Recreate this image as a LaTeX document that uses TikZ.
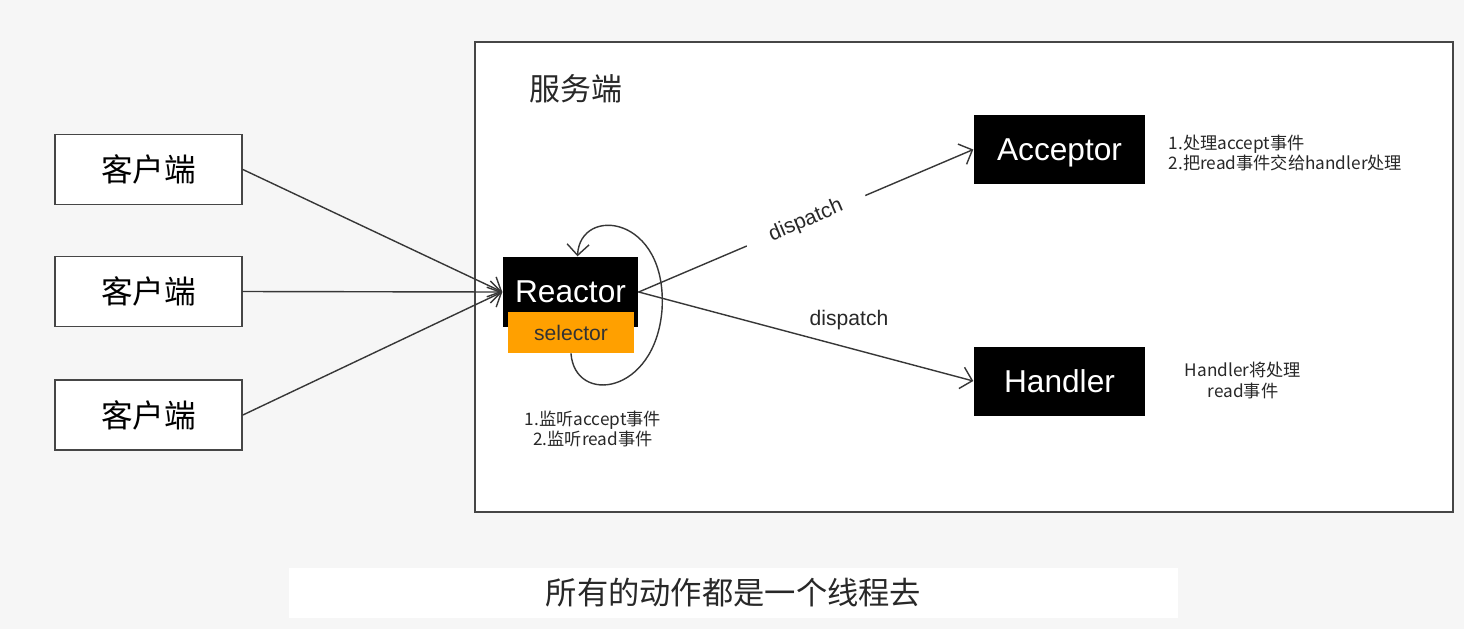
\documentclass[tikz,border=0pt]{standalone}
\usepackage{fontspec}
\setmainfont{Liberation Sans}
\newfontfamily\cjk{Noto Sans CJK SC}
\usetikzlibrary{arrows.meta,positioning}
\definecolor{slidegray}{RGB}{246,246,246}
\definecolor{framegray}{RGB}{70,70,70}
\definecolor{wiregray}{RGB}{55,55,55}
\definecolor{selectororange}{RGB}{255,160,0}
\definecolor{notegray}{RGB}{40,40,40}

\begin{document}
\begin{tikzpicture}[>={Straight Barb[length=1.1mm,width=2.2mm]},line cap=round,
 clientbox/.style={draw=framegray,fill=white,line width=.5pt,minimum width=1.87cm,minimum height=.70cm,inner sep=0pt,font=\cjk\fontsize{9}{11}\selectfont},
 corebox/.style={fill=black,text=white,inner sep=0pt,text depth=0pt,font=\fontsize{9}{11}\selectfont},
 note/.style={font=\cjk\fontsize{4.9}{5.8}\selectfont,text=notegray,inner sep=0pt},
 wire/.style={->,wiregray,line width=.4pt},
 wirelabel/.style={font=\fontsize{6}{7}\selectfont,text=notegray,inner sep=0pt}]
\useasboundingbox[fill=slidegray] (0,0) rectangle (14.64,-6.29);
% server frame
\node[draw=framegray,fill=white,line width=.5pt,minimum width=9.78cm,minimum height=4.70cm,inner sep=0pt] (server) at (9.64,-2.77) {};
\node[font=\cjk\fontsize{8.8}{10}\selectfont,text=notegray] (servertitle) at (5.76,-0.89) {服务端};
% clients
\node[clientbox] (c1) at (1.485,-1.695) {客户端};
\node[clientbox] (c2) at (1.485,-2.915) {客户端};
\node[clientbox] (c3) at (1.485,-4.15) {客户端};
% reactor and workers
\node[corebox,minimum width=1.35cm,minimum height=.70cm] (reactor) at (5.705,-2.92) {Reactor};
\node[fill=selectororange,minimum width=1.26cm,minimum height=.41cm,inner sep=0pt,font=\fontsize{6}{7}\selectfont,text=black!80] (sel) at (5.71,-3.325) {selector};
\node[corebox,minimum width=1.71cm,minimum height=.69cm] (acceptor) at (10.595,-1.495) {Acceptor};
\node[corebox,minimum width=1.71cm,minimum height=.69cm] (handler) at (10.595,-3.81) {Handler};
% notes
\node[note,anchor=west,align=left] (accnote) at (11.68,-1.53) {1.处理accept事件\\2.把read事件交给handler处理};
\node[note,align=center] (hdlnote) at (12.43,-3.805) {Handler将处理\\read事件};
\node[note,align=center] (reanote) at (5.93,-4.29) {1.监听accept事件\\2.监听read事件};
% connectors
\foreach \c in {c1,c2,c3}
 \draw[wire] (\c.east) -- (reactor.west);
\draw[wire] (sel.south) .. controls (5.75,-4.05) and (6.55,-3.95) .. (6.62,-3.10)
 .. controls (6.68,-2.15) and (5.80,-2.05) .. ([xshift=.07cm]reactor.north);
\draw[wire] (reactor.east) -- node[wirelabel,sloped,fill=white,inner xsep=2.5mm,inner ysep=1mm] (dup) {dispatch} (acceptor.west);
\draw[wire] (reactor.east) -- (handler.west);
\node[wirelabel] (dlow) at (8.49,-3.20) {dispatch};
% caption bar
\node[fill=white,minimum width=8.89cm,minimum height=.50cm,inner sep=0pt,font=\cjk\fontsize{8.9}{10}\selectfont,text=notegray] (caption) at (7.335,-5.93) {所有的动作都是一个线程去};
\end{tikzpicture}
\end{document}
